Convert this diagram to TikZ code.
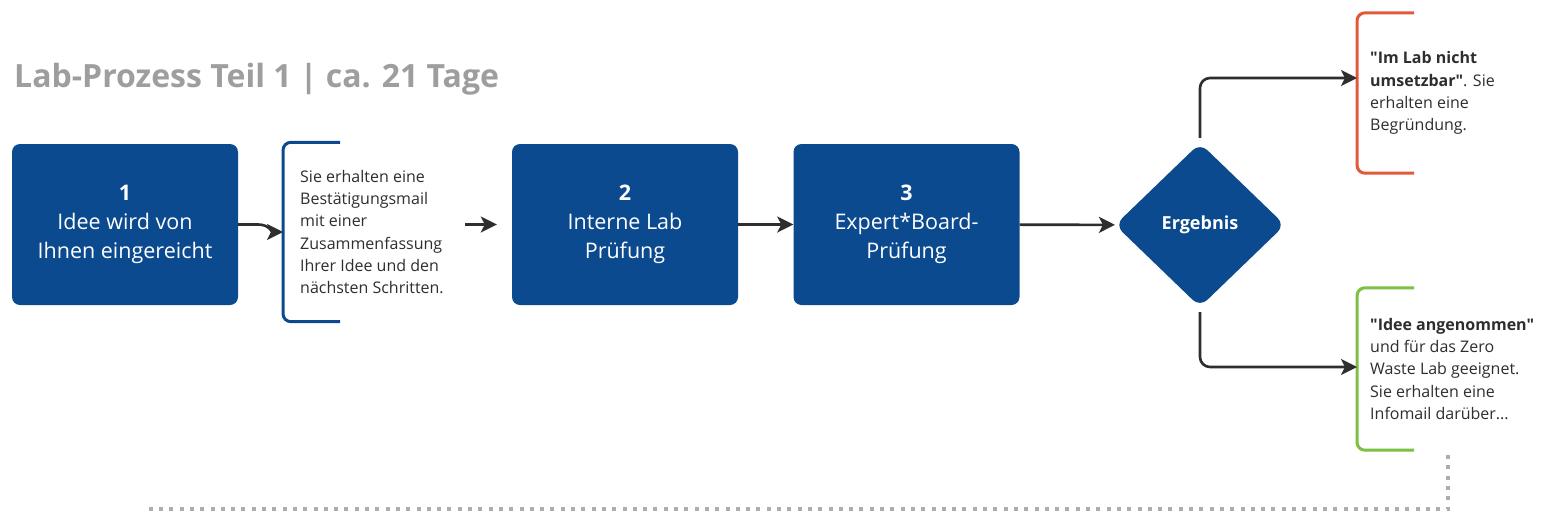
\documentclass[tikz,border=0pt]{standalone}
\usepackage{fontspec}
\setmainfont{Open Sans}
\usetikzlibrary{shapes.geometric,arrows.meta}

\definecolor{labblue}{HTML}{0B4A8E}
\definecolor{labred}{HTML}{E2583A}
\definecolor{labgreen}{HTML}{7DC043}
\definecolor{labdark}{HTML}{2E2E2E}
\definecolor{labgray}{HTML}{9E9E9E}

\begin{document}
\begin{tikzpicture}[x=1pt,y=-1pt,
    stage/.style={fill=labblue, rounded corners=8pt, minimum width=226pt, minimum height=161pt,
        inner sep=0pt, text=white, align=center, font=\fontsize{21.5}{29}\selectfont},
    note/.style={anchor=west, inner xsep=15pt, inner ysep=0pt, align=left,
        text=labdark, font=\fontsize{16}{22.2}\selectfont},
    flow/.style={draw=labdark, line width=2.6pt, -{Stealth[length=16pt,width=16pt,inset=4pt]}},
    dotline/.style={draw=labgray!85, line width=4pt, dash pattern=on 4pt off 6.3pt}
    ]

        \def\tick{57}

        \fill[white] (0,0) rectangle (1543,520);
        \useasboundingbox (0,0) rectangle (1543,520);

        \node[anchor=base west, inner sep=0pt, text=labgray, font=\bfseries\fontsize{32}{38}\selectfont] (title) at (14,87) {Lab-Prozess Teil 1 | ca. 21 Tage};

        % the three stages
        \node[stage] (idee) at (125,224.5) {\textbf{1}\\Idee wird von\\Ihnen eingereicht};
        \node[stage] (intern) at (625,224.5) {\textbf{2}\\Interne Lab\\Prüfung};
        \node[stage] (board) at (906.5,224.5) {\textbf{3}\\Expert*Board-\\Prüfung};

        \node[diamond, fill=labblue, minimum width=170pt, minimum height=164pt, inner sep=0pt,
            rounded corners=10pt, text=white, font=\bfseries\fontsize{18}{22}\selectfont] (ergebnis) at (1200,225) {Ergebnis};

        % notes with brackets
        \node[note, minimum height=179pt, inner xsep=17pt] (mail) at (283,232) {Sie erhalten eine\\Bestätigungsmail\\mit einer\\Zusammenfassung\\Ihrer Idee und den\\nächsten Schritten.};
        \node[note, minimum height=160pt, inner xsep=13pt] (nein) at (1357,93) {\textbf{\textquotedbl Im Lab nicht}\\\textbf{umsetzbar\textquotedbl}. Sie\\erhalten eine\\Begründung.};
        \node[note, minimum height=162pt, inner xsep=13pt] (ja) at (1357,369) {\textbf{\textquotedbl Idee angenommen\textquotedbl}\\und für das Zero\\Waste Lab geeignet.\\Sie erhalten eine\\Infomail darüber...};

        \foreach \n/\c in {mail/labblue, nein/labred, ja/labgreen}
            \draw[\c, line width=3pt, rounded corners=8pt] ([xshift=\tick pt]\n.north west) -- (\n.north west) -- (\n.south west) -- ([xshift=\tick pt]\n.south west);

        % connectors
        \draw[flow] (idee.east) -- ++(20,0) to[out=0,in=180] (mail.west);
        \draw[flow, shorten <=4pt, shorten >=15pt] (mail.east |- intern.west) -- (intern.west);
        \draw[flow] (intern) -- (board);
        \draw[flow] (board) -- (ergebnis);
        \draw[flow, rounded corners=10pt, shorten <=5pt] (ergebnis.north) |- ([yshift=15pt]nein.west);
        \draw[flow, rounded corners=10pt, shorten <=5pt] (ergebnis.south) |- ([yshift=2pt]ja.west);

        % continues in part 2
        \coordinate (weiterA) at (1448,455);
        \coordinate (weiterB) at (145,509);
        \draw[dotline] (weiterA) |- (weiterB);

\end{tikzpicture}
\end{document}
